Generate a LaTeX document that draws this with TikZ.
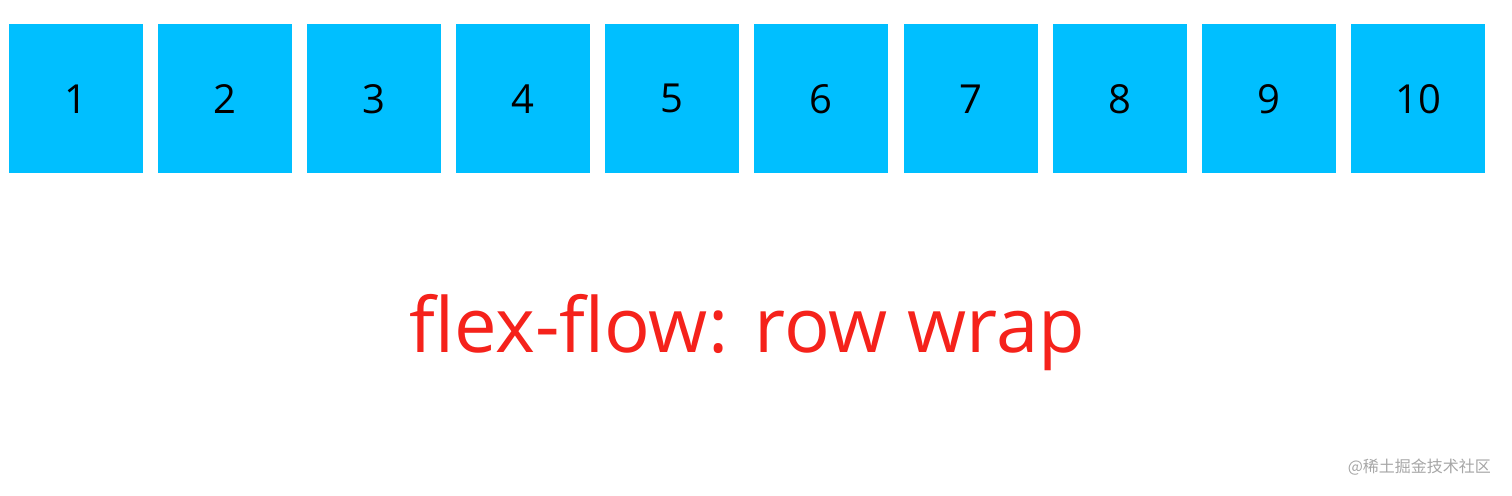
\documentclass[tikz,border=0pt]{standalone}
\usepackage{fontspec}
\setmainfont{Open Sans}
\newfontfamily\cjk{Noto Sans CJK SC}
\definecolor{boxblue}{HTML}{00BFFF}
\definecolor{flexred}{HTML}{F5221B}
\begin{document}
\begin{tikzpicture}[x=0.5pt,y=-0.5pt,
  item/.style={fill=boxblue,minimum width=67pt,minimum height=74.5pt,inner sep=0pt,font=\fontsize{20}{24}\selectfont,anchor=north west}]
\useasboundingbox (0,0) rectangle (1512,495);
\foreach \i [count=\n] in {9,158,307,456,605,754,904,1053,1202,1351}
  \node[item] (b\n) at (\i,24) {\n};
\node[text=flexred,font=\fontsize{38}{44}\selectfont] (title) at (747,333) {flex-flow: row wrap};
\node[text=gray!70,font=\cjk\fontsize{8}{10}\selectfont,anchor=east] (wm) at (1498,467) {@稀土掘金技术社区};
\end{tikzpicture}
\end{document}
